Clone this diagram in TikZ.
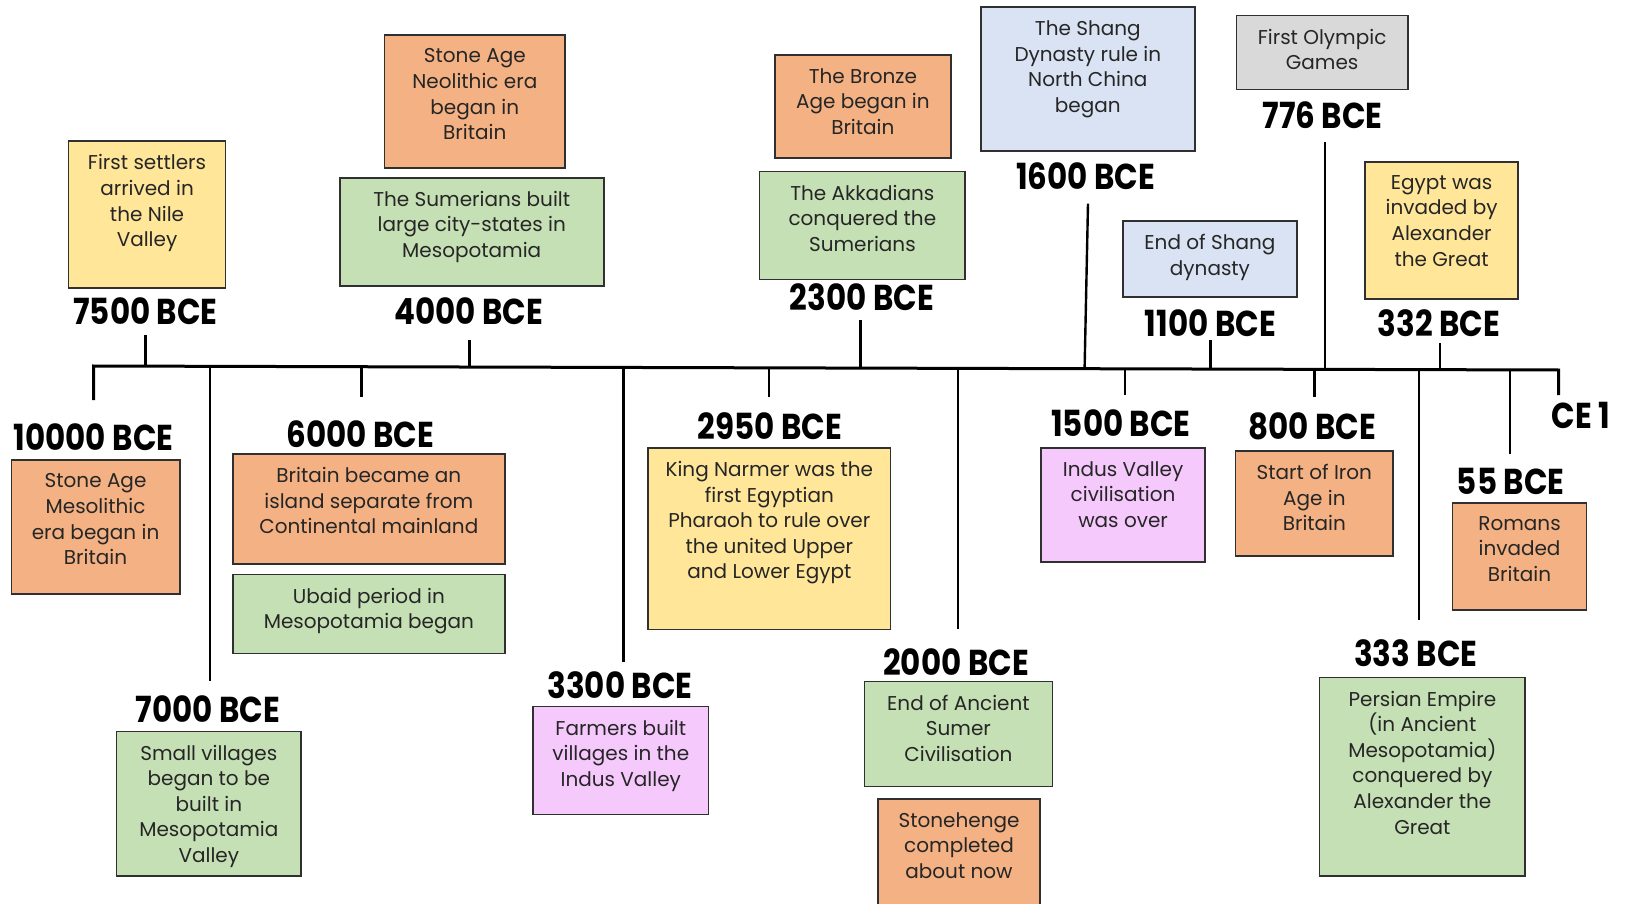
\documentclass[tikz,border=0pt]{standalone}
\usepackage{fontspec}
\setmainfont{Poppins}
\newfontfamily\lblfamily{Poppins}[FakeStretch=0.86]
\usetikzlibrary{fit}
\definecolor{orangeC}{HTML}{F4B183}
\definecolor{greenC}{HTML}{C5E0B4}
\definecolor{yellowC}{HTML}{FFE699}
\definecolor{blueC}{HTML}{DAE3F3}
\definecolor{grayC}{HTML}{D9D9D9}
\definecolor{pinkC}{HTML}{F6C9FD}
\definecolor{lineC}{HTML}{303030}
\definecolor{textC}{HTML}{262626}
\tikzset{
  evb/.style={draw=lineC, line width=0.85pt, inner sep=0pt, outer sep=0pt},
  evt/.style={anchor=north, align=center, inner sep=0pt, text=textC,
    font=\fontsize{10}{12.8}\selectfont},
  lbl/.style={inner sep=0pt, font=\lblfamily\bfseries\fontsize{18}{20}\selectfont},
  axis/.style={line width=1.5pt, line join=miter},
  tickline/.style={line width=1.2pt},
}
\newcommand\evbox[7]{%
  \node[evb, fill=#2, fit={(#3,#4) (#5,#6)}] (#1) {};
  \node[evt] (#1-t) at ([yshift=-6.5pt]#1.north) {#7};
}
\begin{document}
\begin{tikzpicture}[x=0.5pt, y=-0.5pt]
\useasboundingbox[fill=white] (0,0) rectangle (1629,904);

% ---- event boxes (above the axis)
\evbox{settlers}{yellowC}{68.6}{141.3}{225.5}{287.8}{First settlers\\arrived in\\the Nile\\Valley}
\evbox{neolithic}{orangeC}{384.4}{35.3}{565.2}{168.3}{Stone Age\\Neolithic era\\began in\\Britain}
\evbox{sumerians}{greenC}{339.8}{177.7}{603.7}{285.7}{The Sumerians built\\large city-states in\\Mesopotamia}
\evbox{bronze}{orangeC}{775}{55}{950.7}{158}{The Bronze\\Age began in\\Britain}
\evbox{akkadians}{greenC}{759.5}{171.4}{965.2}{279.5}{The Akkadians\\conquered the\\Sumerians}
\evbox{shang}{blueC}{980.8}{7.3}{1194.9}{150.7}{The Shang\\Dynasty rule in\\North China\\began}
\evbox{olympic}{grayC}{1236.4}{15.6}{1407.8}{89.4}{First Olympic\\Games}
\evbox{endshang}{blueC}{1123.2}{221.3}{1296.7}{297.2}{End of Shang\\dynasty}
\evbox{egypt}{yellowC}{1365.2}{162}{1518}{299.2}{Egypt was\\invaded by\\Alexander\\the Great}

% ---- event boxes (below the axis)
\evbox{mesolithic}{orangeC}{11.4}{460.3}{179.7}{594.3}{Stone Age\\Mesolithic\\era began in\\Britain}
\evbox{britain}{orangeC}{232.7}{454}{505}{564.2}{Britain became an\\island separate from\\Continental mainland}
\evbox{ubaid}{greenC}{232.7}{574.6}{505}{653.5}{Ubaid period in\\Mesopotamia began}
\evbox{villages}{greenC}{116.4}{731.5}{301.3}{875.9}{Small villages\\began to be\\built in\\Mesopotamia\\Valley}
\evbox{farmers}{pinkC}{533}{706.5}{708.6}{814.6}{Farmers built\\villages in the\\Indus Valley}
\evbox{narmer}{yellowC}{648.3}{447.8}{890.4}{629.6}{King Narmer was the\\first Egyptian\\Pharaoh to rule over\\the united Upper\\and Lower Egypt}
\evbox{sumerend}{greenC}{864.4}{681.6}{1052.5}{786.5}{End of Ancient\\Sumer\\Civilisation}
\evbox{stonehenge}{orangeC}{878}{799}{1040}{915}{Stonehenge\\completed\\about now}
\evbox{indus}{pinkC}{1041}{447.8}{1205.2}{562}{Indus Valley\\civilisation\\was over}
\evbox{iron}{orangeC}{1235.4}{451}{1393.3}{555.9}{Start of Iron\\Age in\\Britain}
\evbox{romans}{orangeC}{1452.5}{502.9}{1586.6}{609.9}{Romans\\invaded\\Britain}
\evbox{persian}{greenC}{1319.4}{677.4}{1525.3}{875.9}{Persian Empire\\(in Ancient\\Mesopotamia)\\conquered by\\Alexander the\\Great}

% ---- date labels
\node[lbl] (l10000) at (93.5,437) {10000 BCE};
\node[lbl] (l7500) at (145.5,310.7) {7500 BCE};
\node[lbl] (l7000) at (208,709.6) {7000 BCE};
\node[lbl] (l6000) at (360.5,434) {6000 BCE};
\node[lbl] (l4000) at (468.6,310.7) {4000 BCE};
\node[lbl] (l3300) at (620,684.7) {3300 BCE};
\node[lbl] (l2950) at (770,426) {2950 BCE};
\node[lbl] (l2300) at (862,297) {2300 BCE};
\node[lbl] (l2000) at (956,662) {2000 BCE};
\node[lbl] (l1600) at (1085.8,176.6) {1600 BCE};
\node[lbl] (l1500) at (1121,423) {1500 BCE};
\node[lbl] (l1100) at (1210.4,323) {1100 BCE};
\node[lbl] (l776) at (1322.6,115.3) {776 BCE};
\node[lbl] (l800) at (1312,426) {800 BCE};
\node[lbl] (l332) at (1439,323) {332 BCE};
\node[lbl] (l333) at (1416,653.5) {333 BCE};
\node[lbl] (l55) at (1510.7,481) {55 BCE};
\node[lbl] (lce1) at (1581,415.6) {CE 1};

% ---- axis
\coordinate (aL) at (93.5,366);
\coordinate (aR) at (1558.5,370);
\coordinate (eL) at (93.5,400);
\coordinate (eR) at (1558.5,395);
\draw[axis] (eL) -- (aL) -- (aR) -- (eR);

% ---- ticks: axis point, free end
\coordinate (a7500) at (145.5,366.1);  \coordinate (e7500) at (145.5,334.5);
\coordinate (a7000) at (210,366.3);    \coordinate (e7000) at (210,680.5);
\coordinate (a6000) at (361.6,366.7);  \coordinate (e6000) at (361.6,397);
\coordinate (a4000) at (469.6,367);    \coordinate (e4000) at (469.6,339.7);
\coordinate (a3300) at (623.4,367.4);  \coordinate (e3300) at (623.4,662);
\coordinate (a2950) at (769,367.8);    \coordinate (e2950) at (769,397);
\coordinate (a2300) at (860.3,368.1);  \coordinate (e2300) at (860.3,320);
\coordinate (a2000) at (958,368.4);    \coordinate (e2000) at (958,628.6);
\coordinate (a1600) at (1084.6,368.7); \coordinate (e1600) at (1088,203.6);
\coordinate (a1500) at (1125,368.8);   \coordinate (e1500) at (1125,395);
\coordinate (a1100) at (1210.4,369);   \coordinate (e1100) at (1210.4,339.7);
\coordinate (a800) at (1314.3,369.3);  \coordinate (e800) at (1314.3,397);
\coordinate (a776) at (1324.7,369.4);  \coordinate (e776) at (1324.7,142.3);
\coordinate (a333) at (1419,369.6);    \coordinate (e333) at (1419,620);
\coordinate (a332) at (1440,369.7);    \coordinate (e332) at (1440,343);
\coordinate (a55) at (1509.7,369.9);   \coordinate (e55) at (1509.7,454);
\foreach \t in {7500,7000,6000,4000,3300,2950,2300,2000,1600,1500,1100,800,776,333,332,55}
  \draw[tickline] (a\t) -- (e\t);
\end{tikzpicture}
\end{document}
